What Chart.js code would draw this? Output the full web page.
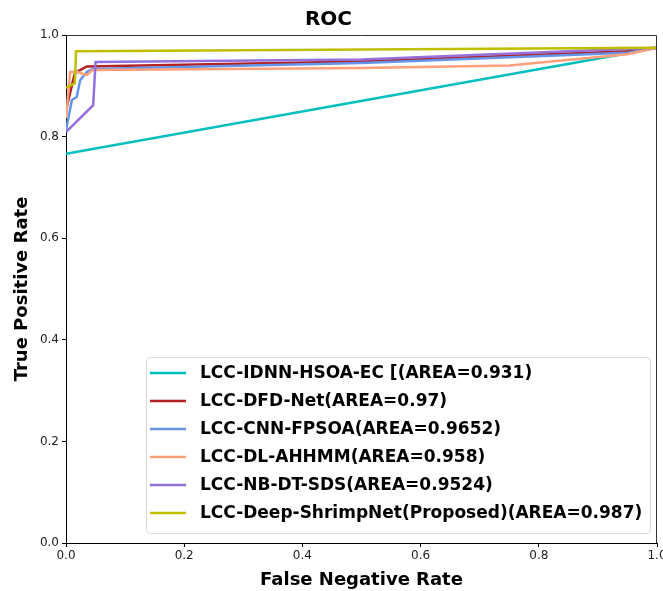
<!DOCTYPE html>
<html>
<head>
<meta charset="utf-8">
<script src="https://cdn.jsdelivr.net/npm/chart.js@4"></script>
<style>
  html, body { margin: 0; padding: 0; background: #fff; }
  #wrap { width: 663px; height: 591px; }
</style>
</head>
<body>
<div id="wrap"><canvas id="roc-chart"></canvas></div>
<script>
// Series names as in the legend
const labels = [
	'LCC-IDNN-HSOA-EC [(AREA=0.931)',
	'LCC-DFD-Net(AREA=0.97)',
	'LCC-CNN-FPSOA(AREA=0.9652)',
	'LCC-DL-AHHMM(AREA=0.958)',
	'LCC-NB-DT-SDS(AREA=0.9524)',
	'LCC-Deep-ShrimpNet(Proposed)(AREA=0.987)'
];
const colors = ['#00bfbf', '#b22222', '#6495ed', '#ffa07a', '#9370db', '#bfbf00'];

// ROC points (x = rate on bottom axis, y = true positive rate)
const idnnX = [0, 0.96, 1];
const idnnY = [0.766, 0.966, 0.975];
const dfdX = [0, 0.015, 0.035, 0.5, 0.95, 1];
const dfdY = [0.852, 0.925, 0.938, 0.948, 0.968, 0.975];
const cnnX = [0, 0.01, 0.018, 0.024, 0.035, 0.045, 0.5, 0.95, 1];
const cnnY = [0.813, 0.872, 0.878, 0.911, 0.927, 0.933, 0.945, 0.965, 0.975];
const dlX = [0, 0.007, 0.02, 0.035, 0.045, 0.5, 0.75, 0.95, 1];
const dlY = [0.836, 0.927, 0.927, 0.921, 0.931, 0.935, 0.94, 0.962, 0.975];
const nbX = [0, 0.046, 0.05, 0.5, 1];
const nbY = [0.809, 0.862, 0.947, 0.952, 0.975];
const shrimpX = [0, 0.015, 0.017, 1];
const shrimpY = [0.896, 0.905, 0.968, 0.975];

const xs = [idnnX, dfdX, cnnX, dlX, nbX, shrimpX];
const ys = [idnnY, dfdY, cnnY, dlY, nbY, shrimpY];

const tickValues = [0, 0.2, 0.4, 0.6, 0.8, 1.0];

const datasets = labels.map((label, i) => ({
	label: label,
	data: xs[i].map((x, j) => ({x: x, y: ys[i][j]})),
	borderColor: colors[i],
	backgroundColor: colors[i],
	borderWidth: 2.5,
	pointRadius: 0,
	showLine: true,
	tension: 0,
	order: labels.length - i
}));

// legend in the lower right corner of the plot + top/right frame
const innerLegend = {
	id: 'innerLegend',
	afterDatasetsDraw(chart) {
		const ctx = chart.ctx;
		const a = chart.chartArea;
		ctx.save();
		// top and right spines
		ctx.strokeStyle = '#333';
		ctx.lineWidth = 1;
		ctx.beginPath();
		ctx.moveTo(a.left, a.top + 0.5);
		ctx.lineTo(a.right - 0.5, a.top + 0.5);
		ctx.lineTo(a.right - 0.5, a.bottom);
		ctx.stroke();

		const w = 504, h = 176;
		const bx = a.right - 7 - w, by = a.bottom - 10 - h;
		ctx.fillStyle = 'rgba(255,255,255,0.85)';
		ctx.strokeStyle = '#d8d8d8';
		ctx.beginPath();
		ctx.roundRect(bx + 0.5, by + 0.5, w, h, 4);
		ctx.fill();
		ctx.stroke();

		ctx.font = 'bold 17px "DejaVu Sans"';
		ctx.textBaseline = 'middle';
		chart.data.datasets.forEach((ds, i) => {
			const yy = by + 16 + i * 28;
			ctx.strokeStyle = ds.borderColor;
			ctx.lineWidth = 2.5;
			ctx.beginPath();
			ctx.moveTo(bx + 4, yy);
			ctx.lineTo(bx + 40, yy);
			ctx.stroke();
			ctx.fillStyle = '#000';
			ctx.fillText(ds.label, bx + 54, yy + 1);
		});
		ctx.restore();
	}
};

const options = {
	responsive: true,
	maintainAspectRatio: false,
	animation: false,
	layout: { padding: { left: 0, right: 6, top: 0, bottom: 0 } },
	plugins: {
		legend: { display: false },
		tooltip: { enabled: false },
		title: {
			display: true,
			text: 'ROC',
			color: '#000',
			font: { family: '"DejaVu Sans"', size: 20, weight: 'bold' },
			padding: { top: 8, bottom: 3 }
		}
	},
	scales: {
		x: {
			type: 'linear',
			min: 0,
			max: 1,
			afterBuildTicks: (scale) => { scale.ticks = tickValues.map(v => ({value: v})); },
			afterFit: (scale) => { scale.height = 48; scale.paddingLeft = 0; scale.paddingRight = 0; },
			grid: { display: true, drawOnChartArea: false, drawTicks: true, tickLength: 4, color: '#000' },
			border: { display: true, color: '#000', width: 1 },
			ticks: {
				color: '#222',
				padding: 2,
				maxRotation: 0,
				font: { family: '"DejaVu Sans"', size: 12 },
				callback: (v) => v.toFixed(1)
			},
			title: {
				display: true,
				text: 'False Negative Rate',
				color: '#000',
				padding: { top: 0, bottom: 0 },
				font: { family: '"DejaVu Sans"', size: 18, weight: 'bold' }
			}
		},
		y: {
			type: 'linear',
			min: 0,
			max: 1,
			afterBuildTicks: (scale) => { scale.ticks = tickValues.map(v => ({value: v})); },
			afterFit: (scale) => { scale.width = 66; scale.paddingTop = 0; scale.paddingBottom = 0; },
			grid: { display: true, drawOnChartArea: false, drawTicks: true, tickLength: 4, color: '#000' },
			border: { display: true, color: '#000', width: 1 },
			ticks: {
				color: '#222',
				padding: 3,
				font: { family: '"DejaVu Sans"', size: 12 },
				callback: (v) => v.toFixed(1)
			},
			title: {
				display: true,
				text: 'True Positive Rate',
				color: '#000',
				padding: { top: 12, bottom: 4 },
				font: { family: '"DejaVu Sans"', size: 18, weight: 'bold' }
			}
		}
	}
};

const canvas = document.getElementById('roc-chart');
const ctx = canvas.getContext('2d');
const rocChart = new Chart(ctx, {
	type: 'scatter',
	data: { datasets: datasets },
	options: options,
	plugins: [innerLegend]
});
</script>
</body>
</html>
